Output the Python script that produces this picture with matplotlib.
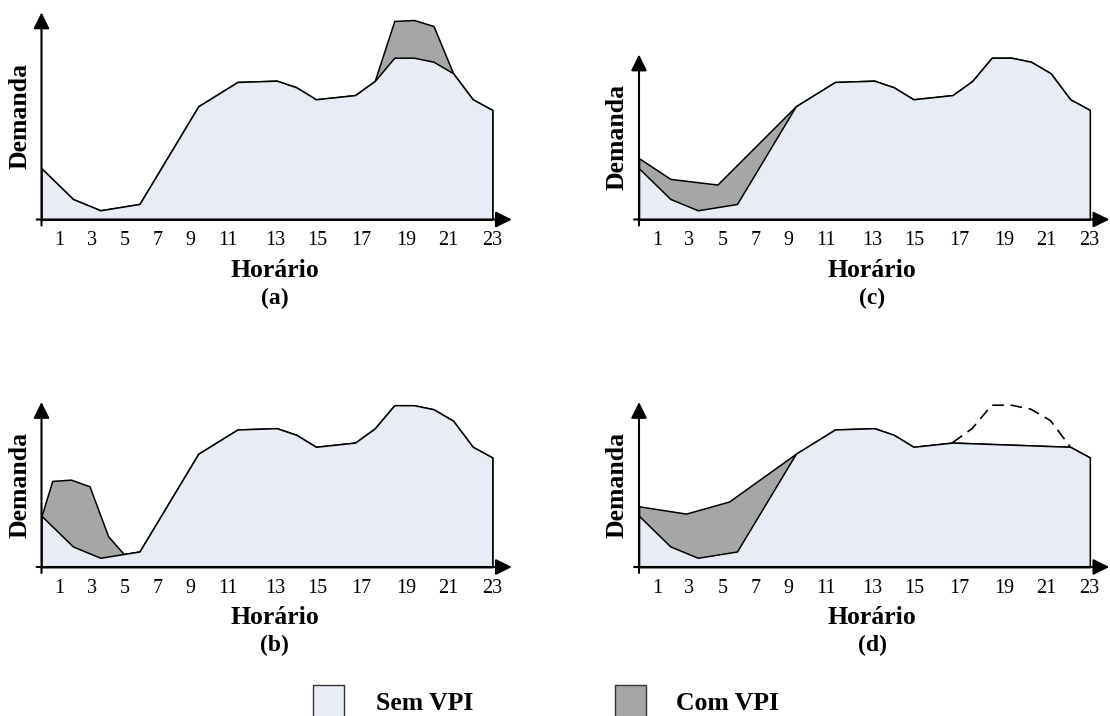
import matplotlib
matplotlib.use("Agg")
import matplotlib.pyplot as plt
from matplotlib.patches import Rectangle

plt.rcParams["font.family"] = ["Liberation Serif", "DejaVu Serif"]

# demand profile without VPI (same in panels a, b, c)
sem_hours = [0, 1.6, 3, 5, 8, 10, 12, 13, 14, 16, 17, 18, 19, 20, 21, 22, 23]
sem_demand = [31.6, 12.7, 5.7, 9.6, 70.0, 85.0, 85.8, 81.7, 74.3, 76.9, 85.6,
              100.0, 100.0, 97.5, 90.4, 74.3, 67.7]

# (a) evening peak grows
vpi_a_hours = [0, 1.6, 3, 5, 8, 10, 12, 13, 14, 16, 17, 18, 19, 20, 21, 22, 23]
vpi_a_demand = [31.6, 12.7, 5.7, 9.6, 70.0, 85.0, 85.8, 81.7, 74.3, 76.9, 85.6,
                122.7, 123.3, 119.6, 90.4, 74.3, 67.7]

# (b) charging right after midnight
vpi_b_hours = [0, 0.55, 1.5, 2.45, 3.4, 4.2, 5, 8, 10, 12, 13, 14, 16, 17, 18, 19, 20, 21, 22, 23]
vpi_b_demand = [31.6, 53.2, 54.0, 49.9, 19.0, 8.0, 9.6, 70.0, 85.0, 85.8, 81.7, 74.3, 76.9,
                85.6, 100.0, 100.0, 97.5, 90.4, 74.3, 67.7]

# (c) valley filling
vpi_c_hours = [0, 1.6, 4, 8, 10, 12, 13, 14, 16, 17, 18, 19, 20, 21, 22, 23]
vpi_c_demand = [37.9, 25.1, 21.6, 70.0, 85.0, 85.8, 81.7, 74.3, 76.9, 85.6,
                100.0, 100.0, 97.5, 90.4, 74.3, 67.7]

# (d) valley filling + peak shaving
vpi_d_hours = [0, 2.4, 4.6, 8, 10, 12, 13, 14, 16, 22, 23]
vpi_d_demand = [37.5, 33.0, 40.5, 70.0, 85.0, 85.8, 81.7, 74.3, 76.9, 74.3, 67.7]

tick_labels = ["1", "3", "5", "7", "9", "11", "13", "15", "17", "19", "21", "23"]
tick_pos = [0.91, 2.56, 4.26, 5.93, 7.61, 9.53, 11.91, 14.07, 16.34, 18.63, 20.76, 22.97]

LIGHT = "#E8EDF5"
GRAY = "#A6A6A6"
W, H = 1110, 716
PX_PER_HOUR = 19.6
PX_PER_UNIT = 1.618
XLIM = (-0.3, 24.0)
YLIM = (0, 130)


def add_panel_axes(fig, origin_px, baseline_px):
    left = origin_px + XLIM[0] * PX_PER_HOUR
    width = (XLIM[1] - XLIM[0]) * PX_PER_HOUR
    height = (YLIM[1] - YLIM[0]) * PX_PER_UNIT
    ax = fig.add_axes([left / W, 1 - baseline_px / H, width / W, height / H])
    ax.set_xlim(*XLIM)
    ax.set_ylim(*YLIM)
    for sp in ax.spines.values():
        sp.set_visible(False)
    ax.patch.set_alpha(0)
    return ax


def draw_panel(ax, vpi_x, vpi_y, base_x, base_y, letter, arrow_top, dashed=None):
    ax.fill_between(vpi_x, vpi_y, 0, facecolor=GRAY, edgecolor="black", lw=1.1, clip_on=False)
    ax.fill_between(base_x, base_y, 0, facecolor=LIGHT, edgecolor="black", lw=1.1, clip_on=False)
    if dashed is not None:
        ax.plot(dashed[0], dashed[1], color="black", lw=1.2, dashes=(7, 4))

    arrow = dict(arrowstyle="-|>,head_length=0.65,head_width=0.32", mutation_scale=15,
                 lw=1.5, color="black", shrinkA=0, shrinkB=0)
    ax.annotate("", xy=(XLIM[1], 0), xytext=(-0.25, 0), arrowprops=arrow, annotation_clip=False)
    ax.annotate("", xy=(0, arrow_top), xytext=(0, -3.7), arrowprops=arrow, annotation_clip=False)

    ax.set_yticks([])
    ax.set_xticks(tick_pos, tick_labels)
    ax.tick_params(axis="x", length=0, pad=8.5, labelsize=14.5)

    ax.annotate("Horário", xy=(11.9, 0), xytext=(0, -36.5), textcoords="offset points",
                ha="center", va="center", fontsize=18.5, fontweight="bold")
    ax.annotate(letter, xy=(11.9, 0), xytext=(0, -56.5), textcoords="offset points",
                ha="center", va="center", fontsize=17, fontweight="bold")
    ax.annotate("Demanda", xy=(0, arrow_top / 2), xytext=(-15.6, 0), textcoords="offset points",
                ha="center", va="center", rotation=90, fontsize=18.5, fontweight="bold",
                annotation_clip=False)


fig = plt.figure(figsize=(W / 100, H / 100), dpi=100)

ax_a = add_panel_axes(fig, 41.5, 219.5)
draw_panel(ax_a, vpi_a_hours, vpi_a_demand, sem_hours, sem_demand, "(a)", 128)

ax_b = add_panel_axes(fig, 41.5, 567)
draw_panel(ax_b, vpi_b_hours, vpi_b_demand, sem_hours, sem_demand, "(b)", 102)

ax_c = add_panel_axes(fig, 639, 219.5)
draw_panel(ax_c, vpi_c_hours, vpi_c_demand, sem_hours, sem_demand, "(c)", 102)

# (d): light area follows original curve in the morning and the shaved curve afterwards
base_d_x = [h for h in sem_hours if h <= 8] + [h for h in vpi_d_hours if h > 8]
base_d_y = ([d for h, d in zip(sem_hours, sem_demand) if h <= 8]
            + [d for h, d in zip(vpi_d_hours, vpi_d_demand) if h > 8])
peak_x = [h for h in sem_hours if 16 <= h <= 22]
peak_y = [d for h, d in zip(sem_hours, sem_demand) if 16 <= h <= 22]
ax_d = add_panel_axes(fig, 639, 567)
draw_panel(ax_d, vpi_d_hours, vpi_d_demand, base_d_x, base_d_y, "(d)", 102,
           dashed=(peak_x, peak_y))

# legend at the bottom
for x0, color, label, tx in [(313, LIGHT, "Sem VPI", 376), (615, GRAY, "Com VPI", 676)]:
    fig.patches.append(Rectangle((x0 / W, 1 - 720 / H), 31 / W, 35 / H, transform=fig.transFigure,
                                 facecolor=color, edgecolor="#333333", lw=1.0))
    fig.text(tx / W, 1 - 703 / H, label, ha="left", va="center", fontsize=18.5, fontweight="bold")

fig.savefig("out.png", dpi=100)
